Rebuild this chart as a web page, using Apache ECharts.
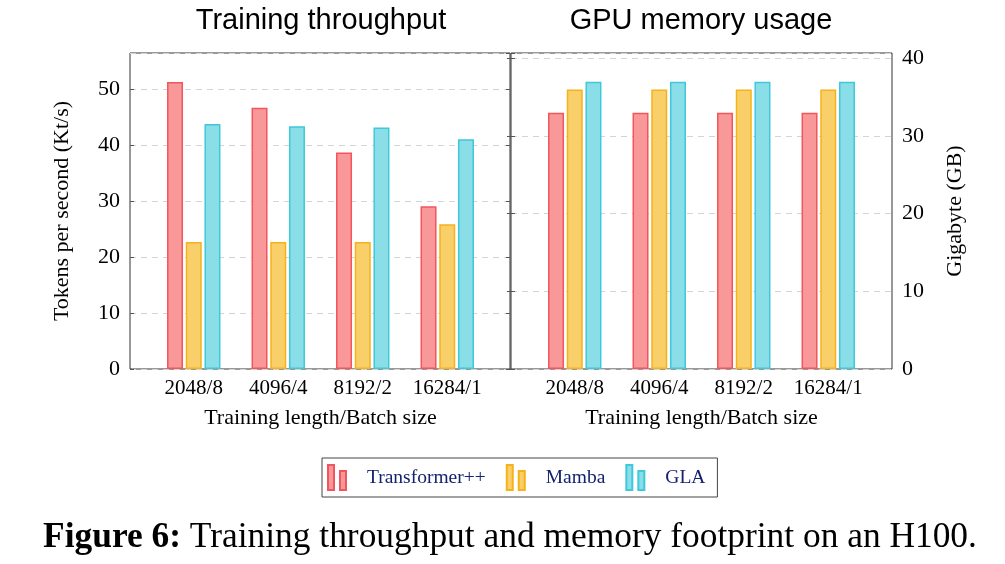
<!DOCTYPE html>
<html><head><meta charset="utf-8">
<script src="https://cdn.jsdelivr.net/npm/echarts@6/dist/echarts.min.js"></script>
<style>html,body{margin:0;padding:0;background:#fff}#c{width:1005px;height:564px}</style>
</head><body><div id="c"></div>
<script>
const categories = ['2048/8', '4096/4', '8192/2', '16284/1'];
const seriesNames = ['Transformer++', 'Mamba', 'GLA'];
const throughputTransformer = [51.3, 46.7, 38.7, 29.1];
const throughputMamba = [22.7, 22.7, 22.7, 25.9];
const throughputGLA = [43.8, 43.4, 43.2, 41.1];
const memoryTransformer = [33, 33, 33, 33];
const memoryMamba = [36, 36, 36, 36];
const memoryGLA = [37, 37, 37, 37];
const leftTicks = [0, 10, 20, 30, 40, 50];
const rightTicks = [0, 10, 20, 30, 40];

const fills = ['#F99899', '#F9CF69', '#8ADEE8'];
const borders = ['#F2555C', '#F6B21B', '#3FC8DA'];
const serif = '"Liberation Serif", "Times New Roman", serif';
const sans = '"Liberation Sans", Arial, sans-serif';

const chart = echarts.init(document.getElementById('c'), null, {renderer: 'canvas'});

function frameY(gridIndex, max, ticks, pos, name, nameGap, showLabels) {
  return {
    type: 'value', gridIndex: gridIndex, min: 0, max: max, interval: 10, position: pos,
    name: name, nameLocation: 'middle', nameGap: nameGap,
    nameTextStyle: {fontFamily: serif, fontSize: 22, color: '#000'},
    axisLine: {show: false},
    axisTick: {show: true, inside: true, length: 4, lineStyle: {color: '#555'}},
    axisLabel: {show: showLabels, showMaxLabel: false, margin: 10, fontFamily: serif, fontSize: 22, color: '#000',
      formatter: v => (ticks.indexOf(v) >= 0 ? String(v) : '')},
    splitLine: {show: showLabels, lineStyle: {color: '#d4d4d4', type: [6, 5], width: 1}}
  };
}

function barSeries(name, idx, data, axisIndex) {
  return {
    type: 'bar', name: name, xAxisIndex: axisIndex, yAxisIndex: axisIndex, data: data,
    barWidth: 16, barGap: '17%',
    itemStyle: {color: fills[idx], borderColor: borders[idx], borderWidth: 1.5}
  };
}

const catAxis = (gi) => ({
  type: 'category', gridIndex: gi, data: categories,
  name: 'Training length/Batch size', nameLocation: 'middle', nameGap: 38,
  nameTextStyle: {fontFamily: serif, fontSize: 22, color: '#000'},
  axisLine: {show: false}, axisTick: {show: false},
  axisLabel: {interval: 0, margin: 9, fontFamily: serif, fontSize: 21, color: '#000'}
});

const hiddenX = (gi) => ({type: 'value', gridIndex: gi, show: false, min: 0, max: 1});
const hiddenY = (gi, max) => ({type: 'value', gridIndex: gi, show: false, min: 0, max: max});

const legendIcon = 'path://M0,0H6V25H0Z M12,6H18V25H12Z';

chart.setOption({
  animation: false,
  backgroundColor: '#fff',
  title: [
    {text: 'Training throughput', left: 316, top: 1, textAlign: 'center',
      textStyle: {fontFamily: sans, fontSize: 29, fontWeight: 'normal', color: '#000'}},
    {text: 'GPU memory usage', left: 696, top: 1, textAlign: 'center',
      textStyle: {fontFamily: sans, fontSize: 29, fontWeight: 'normal', color: '#000'}},
    {text: '{b|Figure 6:} Training throughput and memory footprint on an H100.', left: 505, top: 515, textAlign: 'center',
      textStyle: {fontFamily: serif, fontSize: 35.4, fontWeight: 'normal', color: '#000',
        rich: {b: {fontFamily: serif, fontSize: 35.4, fontWeight: 'bold', color: '#000'}}}}
  ],
  legend: {
    data: seriesNames, left: 322, top: 458,
    orient: 'horizontal', icon: legendIcon, itemWidth: 18, itemHeight: 25, itemGap: 20,
    borderColor: '#444', borderWidth: 1, padding: [6, 12, 6, 5],
    textStyle: {fontFamily: serif, fontSize: 19.5, color: '#14216e', padding: [0, 0, 0, 16]}
  },
  grid: [
    {left: 130, top: 53, width: 380, height: 316, show: true, borderColor: '#333', borderWidth: 1, backgroundColor: 'transparent'},
    {left: 511, top: 53, width: 381, height: 316, show: true, borderColor: '#333', borderWidth: 1, backgroundColor: 'transparent'},
    {left: 151.5, top: 53, width: 338, height: 316, show: false},
    {left: 532.5, top: 53, width: 338, height: 316, show: false}
  ],
  xAxis: [hiddenX(0), hiddenX(1), catAxis(2), catAxis(3)],
  yAxis: [
    frameY(0, 56.5, leftTicks, 'left', 'Tokens per second (Kt/s)', 57, true),
    frameY(1, 40.7, rightTicks, 'right', 'Gigabyte (GB)', 52, true),
    hiddenY(2, 56.5), hiddenY(3, 40.7),
    frameY(0, 56.5, leftTicks, 'right', '', 0, false),
    frameY(1, 40.7, rightTicks, 'left', '', 0, false)
  ],
  series: [
    barSeries(seriesNames[0], 0, throughputTransformer, 2),
    barSeries(seriesNames[1], 1, throughputMamba, 2),
    barSeries(seriesNames[2], 2, throughputGLA, 2),
    barSeries(seriesNames[0], 0, memoryTransformer, 3),
    barSeries(seriesNames[1], 1, memoryMamba, 3),
    barSeries(seriesNames[2], 2, memoryGLA, 3)
  ]
});
</script></body></html>
